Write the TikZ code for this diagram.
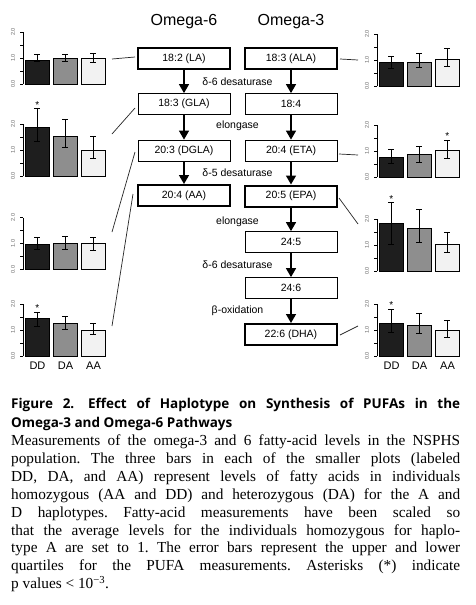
\documentclass[tikz,border=0pt]{standalone}
\usepackage{fontspec}
\setmainfont{Liberation Serif}
\newfontfamily\hv{Liberation Sans}
\newfontfamily\capsf{Open Sans}
\usetikzlibrary{arrows.meta}
\definecolor{bar0}{HTML}{1E1E1E}
\definecolor{bar1}{HTML}{8E8E8E}
\definecolor{bar2}{HTML}{F2F2F2}
\definecolor{ticklabc}{HTML}{666666}
\tikzset{
  fabox/.style={draw, line width=0.8pt, minimum width=92pt, minimum height=21pt, inner sep=0pt, font=\hv\fontsize{10.5}{12}\selectfont},
  fathick/.style={fabox, line width=2pt},
  flow/.style={line width=1.5pt, -{Triangle[width=10pt,length=9pt]}},
  enz/.style={font=\hv\fontsize{10.5}{12}\selectfont, inner sep=0pt},
  coltitle/.style={font=\hv\fontsize{16}{18}\selectfont, inner sep=0pt},
  link/.style={line width=0.7pt, draw=black!85},
  axisline/.style={line width=0.8pt},
  ticklab/.style={font=\hv\fontsize{5.5}{6}\selectfont, text=ticklabc, inner sep=0pt, rotate=90},
  ebar/.style={line width=0.9pt},
  barrect/.style={draw=black, line width=0.9pt},
  grp/.style={font=\hv\fontsize{11}{12}\selectfont, inner sep=0pt},
  star/.style={font=\hv\fontsize{10}{12}\selectfont, inner sep=0pt},
  capbold/.style={font=\frenchspacing\capsf\bfseries\fontsize{13.5}{14}\selectfont, inner sep=0pt, anchor=base west},
  capbody/.style={font=\frenchspacing\fontsize{15.3}{18}\selectfont, inner sep=0pt, anchor=base west},
}
% #1 axis x, #2 baseline y, #3 bars i/value/low/high/star
\newcommand\barplotfa[3]{%
  \begin{scope}[shift={(#1,#2)}]
    \draw[axisline] (0,0) -- (0,-52);
    \foreach \t in {0,...,4} \draw[axisline] (0,-13*\t) -- (-3,-13*\t);
    \foreach \t/\l in {0/0.0,2/1.0,4/2.0} \node[ticklab] at (-10,-13*\t) {\l};
    \foreach \i/\v/\lo/\hi/\s in {#3} {
      \filldraw[barrect, fill=bar\i] (2.5+28*\i,0) rectangle (26+28*\i,-26*\v);
      \draw[ebar] (14.25+28*\i,-26*\lo) -- (14.25+28*\i,-26*\hi);
      \draw[ebar] (11.25+28*\i,-26*\lo) -- (17.25+28*\i,-26*\lo);
      \draw[ebar] (11.25+28*\i,-26*\hi) -- (17.25+28*\i,-26*\hi);
      \ifnum\s=1 \node[star] at (14.25+28*\i,-26*\hi-4) {*};\fi
    }
  \end{scope}}
\begin{document}
\begin{tikzpicture}[x=1pt,y=-1pt]
\useasboundingbox[fill=white] (0,0) rectangle (475,605);

% column titles
\node[coltitle] (t6) at (184,22) {Omega-6};
\node[coltitle] (t3) at (291,22) {Omega-3};

% omega-6 column
\node[fathick] (LA)   at (184,58.5) {18:2 (LA)};
\node[fabox]   (GLA)  at (184,104)  {18:3 (GLA)};
\node[fabox]   (DGLA) at (184,150.5){20:3 (DGLA)};
\node[fathick] (AA)   at (184,195.5){20:4 (AA)};

% omega-3 column
\node[fathick] (ALA)  at (291,58.5) {18:3 (ALA)};
\node[fabox]   (S18)  at (291,104)  {18:4};
\node[fabox]   (ETA)  at (291,150.5){20:4 (ETA)};
\node[fathick] (EPA)  at (291,196)  {20:5 (EPA)};
\node[fabox]   (S245) at (291,242)  {24:5};
\node[fabox]   (S246) at (291,288)  {24:6};
\node[fathick] (DHA)  at (291,334.5){22:6 (DHA)};

\draw[flow] (LA) -- (GLA);
\draw[flow] (GLA) -- (DGLA);
\draw[flow] (DGLA) -- (AA);
\draw[flow] (ALA) -- (S18);
\draw[flow] (S18) -- (ETA);
\draw[flow] (ETA) -- (EPA);
\draw[flow] (EPA) -- (S245);
\draw[flow] (S245) -- (S246);
\draw[flow] (S246) -- (DHA);

% enzyme labels
\node[enz] (e1) at (237.5,82)  {δ-6 desaturase};
\node[enz] (e2) at (237.5,126) {elongase};
\node[enz] (e3) at (237.5,173) {δ-5 desaturase};
\node[enz] (e4) at (237.5,222) {elongase};
\node[enz] (e5) at (237.5,265) {δ-6 desaturase};
\node[enz] (e6) at (237.5,311) {β-oxidation};

% bar plots, left
\barplotfa{23}{84}{0/0.92/0.85/1.15/0, 1/1.0/0.85/1.15/0, 2/1.0/0.82/1.18/0}
\barplotfa{23}{176}{0/1.85/1.31/2.58/1, 1/1.54/1.08/2.19/0, 2/1.0/0.69/1.54/0}
\barplotfa{23}{269.5}{0/0.97/0.76/1.23/0, 1/1.02/0.78/1.29/0, 2/1.01/0.73/1.24/0}
\barplotfa{23}{356}{0/1.45/1.13/1.68/1, 1/1.26/1.03/1.51/0, 2/1.0/0.81/1.26/0}
% bar plots, right
\barplotfa{377}{86}{0/0.89/0.67/1.15/0, 1/0.92/0.70/1.27/0, 2/1.01/0.76/1.46/0}
\barplotfa{377}{177}{0/0.75/0.52/1.05/0, 1/0.85/0.56/1.18/0, 2/1.02/0.72/1.41/1}
\barplotfa{377}{271}{0/1.83/1.03/2.63/1, 1/1.64/1.10/2.37/0, 2/1.02/0.70/1.47/0}
\barplotfa{377}{356}{0/1.24/0.89/1.80/1, 1/1.19/0.85/1.65/0, 2/0.99/0.72/1.35/0}

% group labels
\foreach \gx/\gl/\gn in {37.5/DD/gl1, 65.5/DA/gl2, 93.5/AA/gl3, 391.5/DD/gr1, 419.5/DA/gr2, 447.5/AA/gr3}
  \node[grp] (\gn) at (\gx,366) {\gl};

% connector ends
\coordinate (pLA) at (112,59);   \coordinate (bLA) at (135,57);
\coordinate (pGLA) at (112,134); \coordinate (bGLA) at (135,108);
\coordinate (pDGLA) at (112,232);\coordinate (bDGLA) at (135,152);
\coordinate (pAA) at (112,326);  \coordinate (bAA) at (133,194);
\coordinate (pALA) at (358,60);  \coordinate (bALA) at (340,59);
\coordinate (pETA) at (358,155); \coordinate (bETA) at (339,154);
\coordinate (pEPA) at (358,224); \coordinate (bEPA) at (339,198);
\coordinate (pDHA) at (358,326); \coordinate (bDHA) at (340,335);
\foreach \a in {LA,GLA,DGLA,AA,ALA,ETA,EPA,DHA} \draw[link] (p\a) -- (b\a);

% caption
\node[capbold] (cap1) at (11,408) {\makebox[449pt][s]{Figure 2.\hspace{0.3em} Effect of Haplotype on Synthesis of PUFAs in the}};
\node[capbold] (cap2) at (11,427) {Omega-3 and Omega-6 Pathways};
\node[capbody] (b1) at (11,445.5) {\makebox[449pt][s]{Measurements of the omega-3 and 6 fatty-acid levels in the NSPHS}};
\node[capbody] (b2) at (11,463.4) {\makebox[449pt][s]{population. The three bars in each of the smaller plots (labeled}};
\node[capbody] (b3) at (11,481.3) {\makebox[449pt][s]{DD, DA, and AA) represent levels of fatty acids in individuals}};
\node[capbody] (b4) at (11,499.2) {\makebox[449pt][s]{homozygous (AA and DD) and heterozygous (DA) for the A and}};
\node[capbody] (b5) at (11,517.1) {\makebox[449pt][s]{D haplotypes. Fatty-acid measurements have been scaled so}};
\node[capbody] (b6) at (11,535.0) {\makebox[449pt][s]{that the average levels for the individuals homozygous for haplo-}};
\node[capbody] (b7) at (11,552.9) {\makebox[449pt][s]{type A are set to 1. The error bars represent the upper and lower}};
\node[capbody] (b8) at (11,570.8) {\makebox[449pt][s]{quartiles for the PUFA measurements. Asterisks (*) indicate}};
\node[capbody] (b9) at (11,588.7) {p values < 10\textsuperscript{−3}.};
\end{tikzpicture}
\end{document}
